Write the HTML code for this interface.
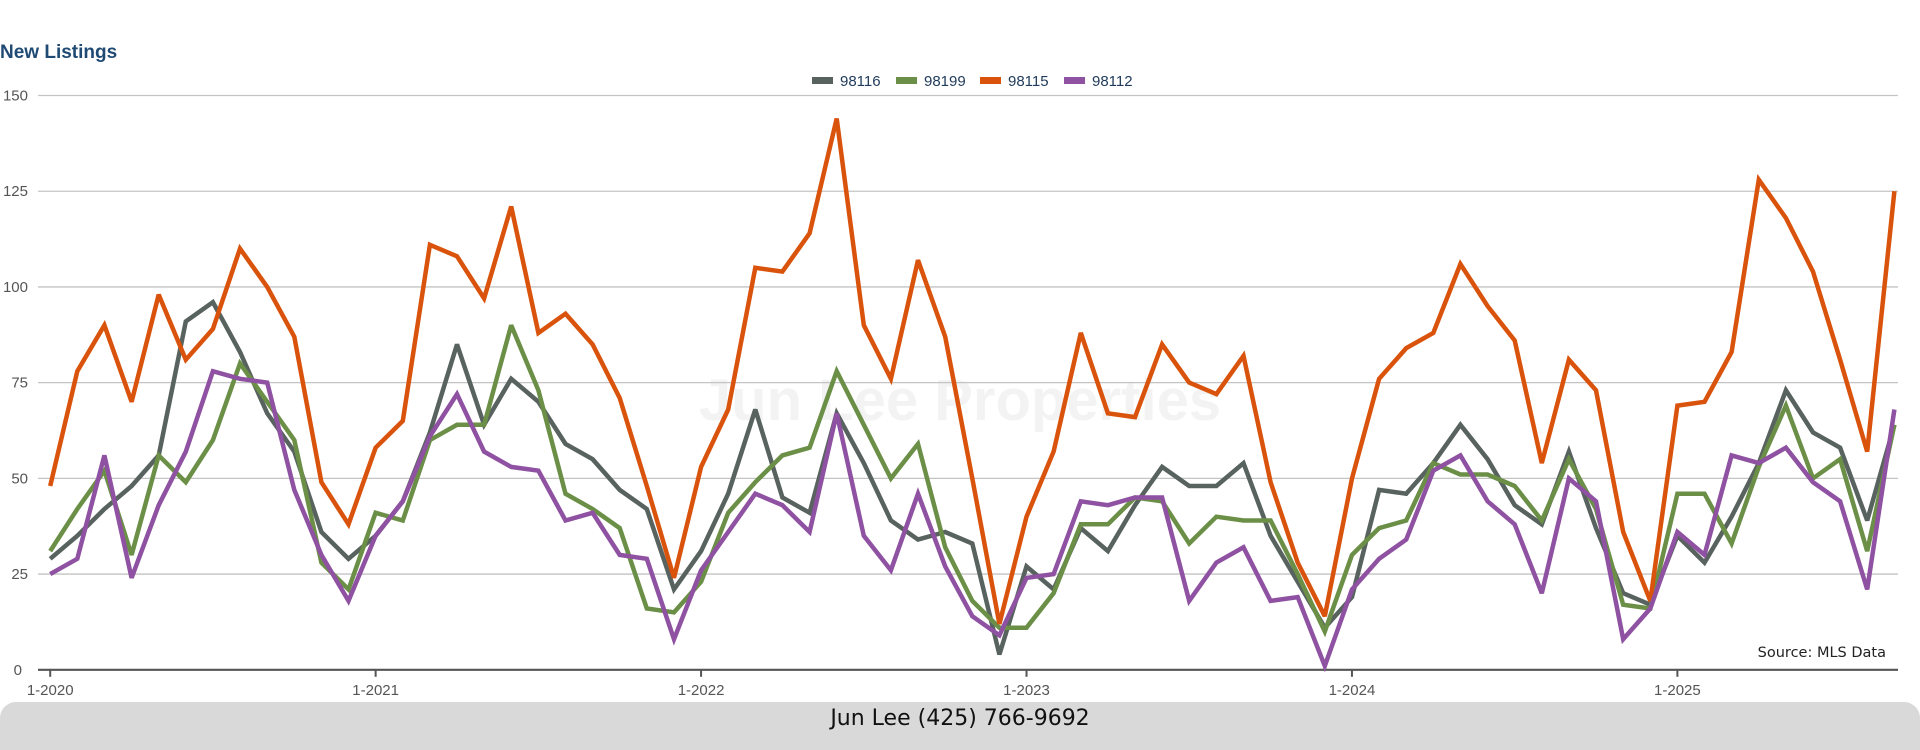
<!DOCTYPE html>
<html><head><meta charset="utf-8"><style>
html,body{margin:0;padding:0;background:#fff;width:1920px;height:750px;overflow:hidden;font-family:"Liberation Sans",sans-serif}
#title{position:absolute;left:0;top:42px;font-size:19px;font-weight:bold;color:#1f4a74}
#footer{position:absolute;left:0;top:702px;width:1920px;height:48px;background:#d9d9d9;border-radius:16px 16px 0 0;text-align:center;font-family:"DejaVu Sans",sans-serif;font-size:22px;line-height:34px;color:#111}
svg{position:absolute;left:0;top:0}
</style></head><body>
<div id="title">New Listings</div>
<svg id="chart" width="1920" height="750"></svg>
<div id="footer">Jun Lee (425) 766-9692</div>
<script>
const seriesNames = ["98116","98199","98115","98112"];
const seriesColors = ["#58625f","#6b8f47","#d9530c","#8f51a1"];
const s98116 = [29,35,42,48,56,91,96,83,67,57,36,29, 35,44,62,85,64,76,70,59,55,47,42,21, 31,46,68,45,41,67,54,39,34,36,33,4, 27,21,37,31,43,53,48,48,54,35,23,11, 19,47,46,54,64,55,43,38,57,37,20,17, 35,28,40,54,73,62,58,39,64];
const s98199 = [31,42,52,30,56,49,60,80,70,60,28,21, 41,39,60,64,64,90,73,46,42,37,16,15, 23,41,49,56,58,78,64,50,59,32,18,11, 11,20,38,38,45,44,33,40,39,39,25,10, 30,37,39,54,51,51,48,39,55,42,17,16, 46,46,33,53,69,50,55,31,64];
const s98115 = [48,78,90,70,98,81,89,110,100,87,49,38, 58,65,111,108,97,121,88,93,85,71,48,24, 53,68,105,104,114,144,90,76,107,87,50,12, 40,57,88,67,66,85,75,72,82,49,28,14, 50,76,84,88,106,95,86,54,81,73,36,18, 69,70,83,128,118,104,81,57,125];
const s98112 = [25,29,56,24,43,57,78,76,75,47,30,18, 35,44,61,72,57,53,52,39,41,30,29,8, 26,36,46,43,36,67,35,26,46,27,14,9, 24,25,44,43,45,45,18,28,32,18,19,1, 21,29,34,52,56,44,38,20,50,44,8,16, 36,30,56,54,58,49,44,21,68];
const yTicks = [0,25,50,75,100,125,150];
const xTickLabels = ["1-2020","1-2021","1-2022","1-2023","1-2024","1-2025"];
const xTickIndex = [0,12,24,36,48,60];

const X0=50.2, STEP=27.12, Y0=669.8, YTOP=95.5, YMAX=150, XR=1898;
const xs = i => X0 + i*STEP;
const ys = v => Y0 - (v/YMAX)*(Y0-YTOP);
const NS="http://www.w3.org/2000/svg";
const svg=document.getElementById('chart');
function mk(tag,attrs,parent){const e=document.createElementNS(NS,tag);for(const k in attrs)e.setAttribute(k,attrs[k]);(parent||svg).appendChild(e);return e;}

const wm=mk('text',{x:960,y:420,'text-anchor':'middle','font-size':58,'font-weight':'bold',fill:'#f3f3f3','font-family':'Liberation Sans, sans-serif'});
wm.textContent='Jun Lee Properties';



yTicks.forEach(t=>{
  if(t>0){const g=mk('line',{x1:38,x2:XR,y1:ys(t),y2:ys(t),stroke:'#c4c4c4','stroke-width':1.3});
  
  }
  const l=mk('text',{x:t===0?22:28,y:ys(t)+5,'text-anchor':'end','font-size':15,fill:'#555'});
  l.textContent=t;
  
  
});
const ax=mk('line',{x1:38,x2:XR,y1:Y0,y2:Y0,stroke:'#555','stroke-width':2.2});


xTickIndex.forEach((idx,k)=>{
  const tk=mk('line',{x1:xs(idx),x2:xs(idx),y1:Y0,y2:Y0+7,stroke:'#555','stroke-width':2});
  
  
  const tl=mk('text',{x:xs(idx),y:Y0+25,'text-anchor':'middle','font-size':15,fill:'#555'});
  tl.textContent=xTickLabels[k];
  
  
});

const allSeries=[s98116,s98199,s98115,s98112];
allSeries.forEach((arr,si)=>{
  const d=arr.map((v,i)=>(i?'L':'M')+xs(i).toFixed(1)+' '+ys(v).toFixed(1)).join(' ');
  const p=mk('path',{d:d,fill:'none',stroke:seriesColors[si],'stroke-width':4.5,'stroke-linejoin':'miter','stroke-miterlimit':3});
  
  
});

const legX=[812,896,980,1064];
seriesNames.forEach((n,i)=>{
  const r=mk('rect',{x:legX[i],y:77,width:21,height:7,fill:seriesColors[i]});
  
  
  const t=mk('text',{x:legX[i]+28,y:86,'font-size':15,fill:'#1f3a5a'});
  t.textContent=n;
  
  
});

const src=mk('text',{x:1886,y:657,'text-anchor':'end','font-size':14.5,fill:'#222','font-family':'DejaVu Sans, sans-serif'});
src.textContent='Source: MLS Data';


</script>
</body></html>
